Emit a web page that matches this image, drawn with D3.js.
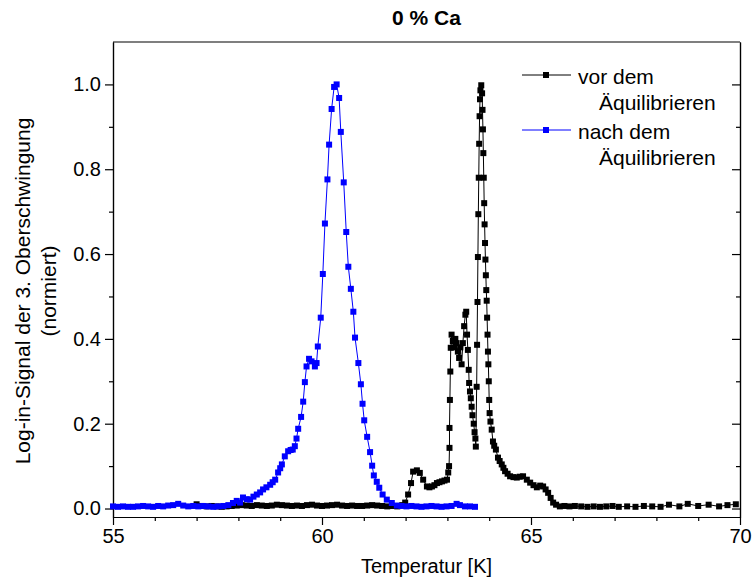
<!DOCTYPE html>
<html>
<head>
<meta charset="utf-8">
<script src="https://cdn.jsdelivr.net/npm/d3@7"></script>
<style>
  body { margin: 0; background: #fff; }
  svg { display: block; }
</style>
</head>
<body>
<div id="chart"></div>
<script>
// Data
const title = "0 % Ca";
const xLabel = "Temperatur [K]";
const yLabel1 = "Log-in-Signal der 3. Oberschwingung";
const yLabel2 = "(normiert)";

const seriesNames = [["vor dem", "Äquilibrieren"], ["nach dem", "Äquilibrieren"]];

// vor dem Äquilibrieren (black)
const vorT = [
  57.0, 57.12, 57.24, 57.36, 57.48, 57.6, 57.72, 57.84, 57.96, 58.08, 58.2, 58.32, 58.44, 58.56,
  58.68, 58.8, 58.92, 59.04, 59.16, 59.28, 59.4, 59.52, 59.64, 59.76, 59.88, 60.0, 60.12, 60.24,
  60.36, 60.48, 60.6, 60.72, 60.84, 60.96, 61.08, 61.2, 61.32, 61.44, 61.56, 61.68, 61.8, 61.92,
  61.99, 62.06, 62.13, 62.18, 62.27, 62.34, 62.42, 62.51, 62.57, 62.63, 62.69, 62.75, 62.81, 62.87,
  62.93, 62.99, 63.02, 63.04, 63.05, 63.05, 63.06, 63.07, 63.08, 63.1, 63.13, 63.16, 63.19, 63.22,
  63.25, 63.28, 63.31, 63.34, 63.37, 63.4, 63.43, 63.45, 63.47, 63.49, 63.51, 63.52, 63.54, 63.56,
  63.58, 63.6, 63.63, 63.65, 63.67, 63.68, 63.7, 63.71, 63.72, 63.73, 63.74, 63.75, 63.76, 63.77,
  63.78, 63.79, 63.81, 63.83, 63.84, 63.85, 63.86, 63.87, 63.88, 63.89, 63.9, 63.91, 63.92, 63.93,
  63.94, 63.95, 63.96, 63.97, 63.98, 63.99, 64.0, 64.01, 64.03, 64.06, 64.09, 64.12, 64.16, 64.21,
  64.25, 64.3, 64.34, 64.38, 64.44, 64.5, 64.58, 64.66, 64.73, 64.81, 64.9, 64.98, 65.06, 65.14,
  65.22, 65.29, 65.35, 65.41, 65.47, 65.53, 65.6, 65.69, 65.8, 65.92, 66.05, 66.2, 66.35, 66.5,
  66.65, 66.8, 66.95, 67.1, 67.3, 67.5, 67.7, 67.9, 68.1, 68.3, 68.55, 68.75, 69.0, 69.25, 69.5,
  69.7, 69.9
];
const vorV = [
  0.010, 0.006, 0.005, 0.006, 0.005, 0.004, 0.005, 0.006, 0.007, 0.008, 0.007, 0.006, 0.008, 0.007,
  0.006, 0.007, 0.009, 0.008, 0.007, 0.006, 0.007, 0.006, 0.008, 0.009, 0.007, 0.006, 0.007, 0.008,
  0.009, 0.007, 0.006, 0.007, 0.006, 0.006, 0.007, 0.008, 0.007, 0.006, 0.005, 0.006, 0.005, 0.008,
  0.014, 0.033, 0.06, 0.087, 0.09, 0.084, 0.068, 0.052, 0.05, 0.052, 0.055, 0.06, 0.062, 0.064,
  0.066, 0.068, 0.085, 0.1, 0.143, 0.19, 0.256, 0.323, 0.379, 0.41, 0.395, 0.38, 0.40, 0.39,
  0.37, 0.355, 0.38, 0.34, 0.39, 0.43, 0.457, 0.464, 0.41, 0.374, 0.327, 0.296, 0.276, 0.26,
  0.24, 0.22, 0.2, 0.18, 0.165, 0.146, 0.287, 0.386, 0.487, 0.593, 0.694, 0.78, 0.86, 0.925,
  0.965, 0.986, 0.998, 0.979, 0.94, 0.894, 0.838, 0.78, 0.72, 0.67, 0.626, 0.587, 0.55, 0.515,
  0.49, 0.45, 0.41, 0.37, 0.34, 0.30, 0.256, 0.225, 0.205, 0.186, 0.158, 0.148, 0.139, 0.12,
  0.112, 0.104, 0.096, 0.088, 0.082, 0.076, 0.074, 0.073, 0.075, 0.076, 0.068, 0.061, 0.055, 0.05,
  0.054, 0.052, 0.045, 0.037, 0.025, 0.014, 0.009, 0.005, 0.006, 0.005, 0.006, 0.005, 0.004, 0.005,
  0.004, 0.005, 0.006, 0.004, 0.005, 0.004, 0.006, 0.005, 0.004, 0.009, 0.005, 0.011, 0.006, 0.009, 0.005,
  0.008, 0.010
];

// nach dem Äquilibrieren (blue)
const nachT = [
  55.0, 55.12, 55.24, 55.36, 55.48, 55.6, 55.72, 55.84, 55.96, 56.08, 56.2, 56.32, 56.44, 56.56,
  56.68, 56.8, 56.92, 57.04, 57.16, 57.28, 57.4, 57.52, 57.64, 57.76,
  57.87, 57.96, 58.04, 58.11, 58.2, 58.28, 58.36, 58.44, 58.52, 58.59, 58.67, 58.76, 58.82, 58.88,
  58.95, 59.0, 59.04, 59.11, 59.19, 59.25, 59.3, 59.35, 59.39, 59.43, 59.5, 59.55, 59.59, 59.63,
  59.69, 59.75, 59.83, 59.87, 59.9, 59.97, 60.02, 60.07, 60.13, 60.17, 60.23, 60.29, 60.35, 60.41,
  60.45, 60.52, 60.58, 60.63, 60.69, 60.75, 60.79, 60.87, 60.93, 60.97, 61.01, 61.08, 61.15, 61.2,
  61.24, 61.31, 61.37, 61.45, 61.55, 61.67, 61.79, 61.9, 62.02, 62.14, 62.26, 62.38, 62.5, 62.62,
  62.74, 62.86, 62.98, 63.1, 63.22, 63.3, 63.42, 63.54, 63.66
];
const nachV = [
  0.005, 0.004, 0.005, 0.004, 0.004, 0.005, 0.006, 0.005, 0.004, 0.006, 0.005, 0.007, 0.008, 0.011,
  0.007, 0.005, 0.006, 0.005, 0.006, 0.005, 0.004, 0.005, 0.006, 0.008,
  0.013, 0.018, 0.014, 0.026, 0.022, 0.021, 0.028, 0.033, 0.038, 0.045, 0.05, 0.056, 0.062, 0.068,
  0.085, 0.095, 0.104, 0.123, 0.135, 0.138, 0.139, 0.147, 0.165, 0.188, 0.216, 0.252, 0.298, 0.335,
  0.353, 0.347, 0.335, 0.343, 0.382, 0.45, 0.553, 0.672, 0.776, 0.858, 0.942, 0.994, 1.0, 0.968,
  0.888, 0.769, 0.652, 0.57, 0.518, 0.464, 0.403, 0.343, 0.293, 0.247, 0.208, 0.169, 0.133, 0.101,
  0.078, 0.063, 0.049, 0.033, 0.021, 0.013, 0.007, 0.006, 0.005, 0.006, 0.005, 0.004, 0.005, 0.006,
  0.005, 0.004, 0.005, 0.006, 0.011, 0.008, 0.005, 0.005, 0.004
];

const xDomain = [55, 70];
const yDomain = [-0.02, 1.1];
const xTicks = [55, 60, 65, 70];
const xMinor = [56, 57, 58, 59, 61, 62, 63, 64, 66, 67, 68, 69];
const yTicks = [0, 0.2, 0.4, 0.6, 0.8, 1.0];
const yMinor = [0.1, 0.3, 0.5, 0.7, 0.9];

// Layout
const width = 754;
const height = 582;
const plotLeft = 113, plotRight = 740, plotTop = 42, plotBottom = 517;
const fontFamily = "'Liberation Sans', Arial, sans-serif";
const markerSize = 6;

const svg = d3.select("#chart").append("svg")
  .attr("width", width)
  .attr("height", height);

const x = d3.scaleLinear().domain(xDomain).range([plotLeft, plotRight]);
const y = d3.scaleLinear().domain(yDomain).range([plotBottom, plotTop]);

const textAttr = (text, size, weight) => {
  text
    .attr("fill", "black")
    .style("font-family", fontFamily)
    .style("font-size", size)
    .style("font-weight", weight || "normal");
};

const styleAxis = (g) => {
  g.selectAll("path, line").attr("stroke", "black").attr("stroke-width", 1.2);
  g.selectAll("text").call(textAttr, "20px");
};

// Bottom axis
svg.append("g")
  .attr("transform", `translate(0,${plotBottom})`)
  .call(d3.axisBottom(x).tickValues(xTicks).tickSize(8).tickSizeOuter(0).tickPadding(4).tickFormat(d3.format("d")))
  .call(styleAxis);
svg.append("g")
  .attr("transform", `translate(0,${plotBottom})`)
  .call(d3.axisBottom(x).tickValues(xMinor).tickSize(4).tickSizeOuter(0).tickFormat(""))
  .call(styleAxis);

// Left axis
svg.append("g")
  .attr("transform", `translate(${plotLeft},0)`)
  .call(d3.axisLeft(y).tickValues(yTicks).tickSize(8).tickSizeOuter(0).tickPadding(4).tickFormat(d3.format(".1f")))
  .call(styleAxis);
svg.append("g")
  .attr("transform", `translate(${plotLeft},0)`)
  .call(d3.axisLeft(y).tickValues(yMinor).tickSize(4).tickSizeOuter(0).tickFormat(""))
  .call(styleAxis);

// Right axis, ticks inward
svg.append("g")
  .attr("transform", `translate(${plotRight},0)`)
  .call(d3.axisLeft(y).tickValues(yTicks).tickSize(8).tickSizeOuter(0).tickFormat(""))
  .call(styleAxis);
svg.append("g")
  .attr("transform", `translate(${plotRight},0)`)
  .call(d3.axisLeft(y).tickValues(yMinor).tickSize(4).tickSizeOuter(0).tickFormat(""))
  .call(styleAxis);

// Top frame line
svg.append("line")
  .attr("x1", plotLeft).attr("x2", plotRight)
  .attr("y1", plotTop).attr("y2", plotTop)
  .attr("stroke", "black").attr("stroke-width", 1.2);

// Series
const series = [
  { name: seriesNames[0], color: "#000000", data: vorT.map((t, i) => ({ t: t, v: vorV[i] })) },
  { name: seriesNames[1], color: "#0000ff", data: nachT.map((t, i) => ({ t: t, v: nachV[i] })) }
];

const line = d3.line().x(d => x(d.t)).y(d => y(d.v));

series.forEach(s => {
  svg.append("path")
    .datum(s.data)
    .attr("fill", "none")
    .attr("stroke", s.color)
    .attr("stroke-width", 1)
    .attr("d", line);

  svg.append("g").selectAll("rect")
    .data(s.data)
    .enter()
    .append("rect")
    .attr("x", d => x(d.t) - markerSize / 2)
    .attr("y", d => y(d.v) - markerSize / 2)
    .attr("width", markerSize)
    .attr("height", markerSize)
    .attr("fill", s.color);
});

// Legend
const legendY = [75, 130];
series.forEach((s, i) => {
  const ly = legendY[i];
  svg.append("line")
    .attr("x1", 522).attr("x2", 571)
    .attr("y1", ly).attr("y2", ly)
    .attr("stroke", s.color).attr("stroke-width", 1);
  svg.append("rect")
    .attr("x", 546 - markerSize / 2).attr("y", ly - markerSize / 2)
    .attr("width", markerSize).attr("height", markerSize)
    .attr("fill", s.color);
  svg.append("text")
    .attr("x", 578).attr("y", ly + 9)
    .text(s.name[0])
    .call(textAttr, "21px");
  svg.append("text")
    .attr("x", 599).attr("y", ly + 35)
    .text(s.name[1])
    .call(textAttr, "21px");
});

// Title and axis titles
svg.append("text")
  .attr("x", (plotLeft + plotRight) / 2).attr("y", 25)
  .attr("text-anchor", "middle")
  .text(title)
  .call(textAttr, "21px", "bold");

svg.append("text")
  .attr("x", (plotLeft + plotRight) / 2).attr("y", 573)
  .attr("text-anchor", "middle")
  .text(xLabel)
  .call(textAttr, "20px");

const yMid = 291;
svg.append("text")
  .attr("transform", `translate(30,${yMid}) rotate(-90)`)
  .attr("text-anchor", "middle")
  .text(yLabel1)
  .call(textAttr, "21px");
svg.append("text")
  .attr("transform", `translate(56,${yMid}) rotate(-90)`)
  .attr("text-anchor", "middle")
  .text(yLabel2)
  .call(textAttr, "21px");
</script>
</body>
</html>
